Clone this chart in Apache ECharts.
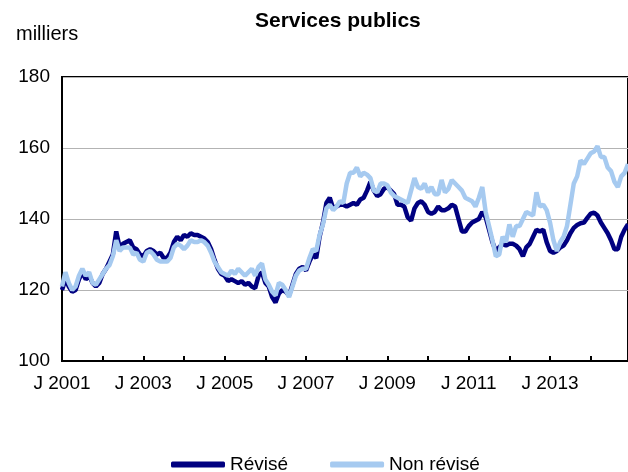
<!DOCTYPE html>
<html>
<head>
<meta charset="utf-8">
<script src="https://cdn.jsdelivr.net/npm/echarts@6/dist/echarts.min.js"></script>
<style>
  html, body { margin: 0; padding: 0; background: #fff; }
  #chart { width: 628px; height: 472px; }
</style>
</head>
<body>
<div id="chart"></div>
<script>
// années couvertes (mensuel, janvier 2001 à décembre 2014)
const years = [2001, 2002, 2003, 2004, 2005, 2006, 2007, 2008, 2009, 2010, 2011, 2012, 2013, 2014]
const seriesNames = ['Révisé', 'Non révisé']

// Révisé (milliers)
const revise = [
  120, 123, 121, 119.5, 120, 123, 125, 123, 124, 122, 121, 122,
  124.5, 126, 128, 130, 136.5, 132, 133, 133.5, 134, 132, 131.5, 130,
  129.5, 131, 131.5, 131, 130, 130.5, 129, 129, 130.5, 133.5, 135, 134,
  135.5, 135, 136, 135.5, 135.5, 135, 134.5, 133.5, 131.5, 128.5, 126, 124.5,
  124, 122.5, 123, 122.5, 122, 122.5, 121.5, 122, 121, 120.5, 124, 125,
  122, 121, 118, 116.5, 119, 120, 119.5, 118.5, 121.5, 124.5, 126, 126.5,
  125.5, 128, 130, 129, 135, 139, 144.5, 146, 143, 143.5, 144, 144,
  143.5, 144, 144.5, 144, 145.5, 146, 148, 150.5, 148, 146.5, 147, 148.5,
  149, 148, 147, 144, 144, 143.5, 140.5, 139.5, 143, 144.5, 145, 144,
  142, 141.5, 142, 143.5, 142.5, 142.5, 143, 144, 143.5, 140, 136.5, 136.5,
  138, 139, 139.5, 140, 142, 140.5, 137, 133.5, 131, 132, 133, 132.5,
  133, 133, 132.5, 131.5, 129.5, 132, 133, 135, 137, 136.5, 137, 133.5,
  131, 130.5, 131, 132, 132.5, 134, 136, 137.5, 138.3, 138.8, 139, 140.3,
  141.5, 141.8, 141, 139, 137.5, 136, 134, 131.5, 131.5, 135, 137, 138.5
]

// Non révisé (milliers)
const nonRevise = [
  121, 125, 122, 120, 121, 124, 126, 124, 125, 122, 121.5, 123,
  124.5, 126, 127, 129.5, 134, 131, 132, 132, 132, 130, 130.5, 128.5,
  128, 130.5, 131, 130, 128.5, 128, 128, 128, 129, 132, 133, 132.5,
  131.5, 132.5, 134, 133.5, 133.5, 134, 133.5, 132.5, 130.5, 128, 126.5, 125,
  124.5, 124, 125.5, 124.5, 126, 125, 124, 125, 126, 124, 126.5, 127.5,
  123, 121.5, 119.5, 118.5, 122, 121.5, 120, 118, 121, 124, 125.5, 126,
  126, 129, 131.5, 131, 135.5, 138.5, 143, 144, 142.5, 143.5, 145, 144.5,
  150, 153, 153, 154.5, 152, 153, 152.5, 151.5, 148, 147.5, 150, 150,
  149.5, 147.5, 146.5, 146, 145.5, 145, 144.5, 148, 151.5, 149, 148.5, 150,
  147.5, 149, 147, 147, 151, 147.5, 148.5, 151, 150, 149, 148, 146,
  145.5, 145, 143.5, 146, 149, 142, 138, 134, 129.5, 130, 135, 133.5,
  138.5, 135, 138, 138, 140, 142, 141.5, 141, 147.5, 143.5, 144, 142.5,
  139, 134, 131, 133.5, 135, 138, 144, 150, 152, 156.5, 155.5, 157,
  158.5, 159, 160.5, 157.5, 157.5, 154.5, 153.5, 150.5, 149, 152, 153, 155.5
]

// catégories mensuelles : « J 2001 », « F 2001 », ...
const monthLetters = ['J', 'F', 'M', 'A', 'M', 'J', 'J', 'A', 'S', 'O', 'N', 'D']
const categories = []
years.forEach(y => {
  monthLetters.forEach(m => categories.push(m + ' ' + y))
})

const font = 'Liberation Sans, Arial, sans-serif'

const chart = echarts.init(document.getElementById('chart'))
chart.setOption({
  animation: false,
  title: [
    {
      text: 'Services publics',
      left: 250,
      top: 6,
      textStyle: { fontFamily: font, fontSize: 21, fontWeight: 'bold', color: '#000' }
    },
    {
      text: 'milliers',
      left: 11,
      top: 19,
      textStyle: { fontFamily: font, fontSize: 20, fontWeight: 'normal', color: '#000' }
    }
  ],
  color: ['#000080', '#A6CAF0'],
  legend: {
    data: seriesNames,
    top: 450,
    left: 166,
    icon: 'roundRect',
    itemWidth: 54,
    itemHeight: 6,
    itemGap: 42,
    textStyle: { fontFamily: font, fontSize: 19, color: '#000' }
  },
  grid: {
    left: 62,
    right: 0,
    top: 77,
    bottom: 111,
    show: true,
    borderColor: '#000',
    borderWidth: 2
  },
  xAxis: {
    type: 'category',
    data: categories,
    boundaryGap: false,
    axisLine: { lineStyle: { color: '#000', width: 2 } },
    axisTick: {
      inside: true,
      length: 5,
      interval: 11,
      lineStyle: { color: '#000', width: 2 }
    },
    axisLabel: {
      interval: 23,
      margin: 13,
      fontFamily: font,
      fontSize: 19,
      color: '#000'
    },
    splitLine: { show: false }
  },
  yAxis: {
    type: 'value',
    min: 100,
    max: 180,
    interval: 20,
    axisLine: { show: true, lineStyle: { color: '#000', width: 2 } },
    axisTick: { show: false },
    axisLabel: { margin: 12, fontFamily: font, fontSize: 19, color: '#000' },
    splitLine: { lineStyle: { color: '#b3b3b3', width: 1 } }
  },
  series: [
    {
      name: seriesNames[0],
      type: 'line',
      data: revise,
      symbol: 'none',
      lineStyle: { width: 4.5 }
    },
    {
      name: seriesNames[1],
      type: 'line',
      data: nonRevise,
      symbol: 'none',
      lineStyle: { width: 4.5 }
    }
  ]
})
</script>
</body>
</html>
